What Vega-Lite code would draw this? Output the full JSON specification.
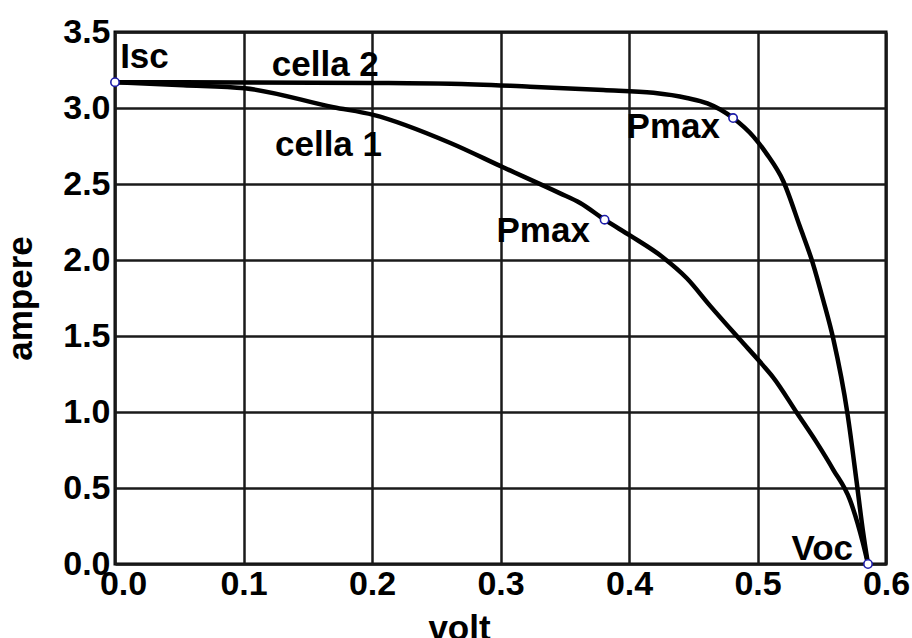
{
  "$schema": "https://vega.github.io/schema/vega-lite/v6.json",
  "width": 771,
  "height": 532,
  "autosize": "none",
  "padding": {"left": 115, "top": 32, "right": 26, "bottom": 74},
  "background": "white",
  "config": {
    "font": "Liberation Sans",
    "view": {"stroke": "black", "strokeWidth": 3},
    "axis": {
      "grid": true,
      "gridColor": "#1a1a1a",
      "gridWidth": 2.5,
      "gridOpacity": 1,
      "domain": false,
      "ticks": false,
      "labelFont": "Liberation Sans",
      "labelFontSize": 34,
      "labelFontWeight": "bold",
      "labelColor": "black",
      "titleFont": "Liberation Sans",
      "titleFontSize": 35,
      "titleFontWeight": "bold",
      "titleColor": "black"
    }
  },
  "datasets": {
    "curves": [
      {"volt": 0, "ampere": 3.17, "cell": "cella 1"},
      {"volt": 0.053, "ampere": 3.15, "cell": "cella 1"},
      {"volt": 0.101, "ampere": 3.13, "cell": "cella 1"},
      {"volt": 0.17, "ampere": 3.005, "cell": "cella 1"},
      {"volt": 0.201, "ampere": 2.955, "cell": "cella 1"},
      {"volt": 0.261, "ampere": 2.77, "cell": "cella 1"},
      {"volt": 0.302, "ampere": 2.61, "cell": "cella 1"},
      {"volt": 0.346, "ampere": 2.44, "cell": "cella 1"},
      {"volt": 0.362, "ampere": 2.375, "cell": "cella 1"},
      {"volt": 0.381, "ampere": 2.265, "cell": "cella 1"},
      {"volt": 0.401, "ampere": 2.16, "cell": "cella 1"},
      {"volt": 0.426, "ampere": 2.02, "cell": "cella 1"},
      {"volt": 0.445, "ampere": 1.88, "cell": "cella 1"},
      {"volt": 0.463, "ampere": 1.7, "cell": "cella 1"},
      {"volt": 0.486, "ampere": 1.48, "cell": "cella 1"},
      {"volt": 0.504, "ampere": 1.31, "cell": "cella 1"},
      {"volt": 0.512, "ampere": 1.23, "cell": "cella 1"},
      {"volt": 0.531, "ampere": 0.99, "cell": "cella 1"},
      {"volt": 0.546, "ampere": 0.8, "cell": "cella 1"},
      {"volt": 0.559, "ampere": 0.62, "cell": "cella 1"},
      {"volt": 0.572, "ampere": 0.42, "cell": "cella 1"},
      {"volt": 0.582, "ampere": 0.14, "cell": "cella 1"},
      {"volt": 0.586, "ampere": 0.0, "cell": "cella 1"},
      {"volt": 0, "ampere": 3.17, "cell": "cella 2"},
      {"volt": 0.1, "ampere": 3.168, "cell": "cella 2"},
      {"volt": 0.2, "ampere": 3.165, "cell": "cella 2"},
      {"volt": 0.261, "ampere": 3.16, "cell": "cella 2"},
      {"volt": 0.323, "ampere": 3.14, "cell": "cella 2"},
      {"volt": 0.38, "ampere": 3.118, "cell": "cella 2"},
      {"volt": 0.419, "ampere": 3.1, "cell": "cella 2"},
      {"volt": 0.445, "ampere": 3.066, "cell": "cella 2"},
      {"volt": 0.461, "ampere": 3.03, "cell": "cella 2"},
      {"volt": 0.471, "ampere": 2.99, "cell": "cella 2"},
      {"volt": 0.481, "ampere": 2.934, "cell": "cella 2"},
      {"volt": 0.497, "ampere": 2.81, "cell": "cella 2"},
      {"volt": 0.507, "ampere": 2.7, "cell": "cella 2"},
      {"volt": 0.52, "ampere": 2.52, "cell": "cella 2"},
      {"volt": 0.533, "ampere": 2.22, "cell": "cella 2"},
      {"volt": 0.543, "ampere": 1.98, "cell": "cella 2"},
      {"volt": 0.551, "ampere": 1.74, "cell": "cella 2"},
      {"volt": 0.559, "ampere": 1.48, "cell": "cella 2"},
      {"volt": 0.57, "ampere": 0.99, "cell": "cella 2"},
      {"volt": 0.577, "ampere": 0.55, "cell": "cella 2"},
      {"volt": 0.582, "ampere": 0.22, "cell": "cella 2"},
      {"volt": 0.586, "ampere": 0.0, "cell": "cella 2"}
    ],
    "points": [
      {"volt": 0, "ampere": 3.17, "name": "Isc"},
      {"volt": 0.381, "ampere": 2.265, "name": "Pmax 1"},
      {"volt": 0.481, "ampere": 2.934, "name": "Pmax 2"},
      {"volt": 0.586, "ampere": 0.0, "name": "Voc"}
    ],
    "leftLabels": [
      {"volt": 0.004, "ampere": 3.263, "text": "Isc"},
      {"volt": 0.122, "ampere": 3.21, "text": "cella 2"},
      {"volt": 0.1245, "ampere": 2.684, "text": "cella 1"}
    ],
    "rightLabels": [
      {"volt": 0.4708, "ampere": 2.803, "text": "Pmax"},
      {"volt": 0.3696, "ampere": 2.118, "text": "Pmax"},
      {"volt": 0.5743, "ampere": 0.026, "text": "Voc"}
    ]
  },
  "layer": [
    {
      "data": {"name": "curves"},
      "mark": {"type": "line", "color": "black", "strokeWidth": 4.5, "interpolate": "monotone", "strokeCap": "round", "clip": true},
      "encoding": {
        "x": {
          "field": "volt", "type": "quantitative",
          "scale": {"domain": [0, 0.6], "nice": false, "zero": false},
          "axis": {
            "values": [0, 0.1, 0.2, 0.3, 0.4, 0.5, 0.6],
            "format": ".1f",
            "title": "volt",
            "labelPadding": 3,
            "labelBaseline": "top",
            "labelFlush": false,
            "labelOverlap": false,
            "labelOffset": {"condition": {"test": "datum.value == 0", "value": 8}, "value": 0},
            "titleX": 344,
            "titleY": 75,
            "titleAlign": "center",
            "titleBaseline": "alphabetic"
          }
        },
        "y": {
          "field": "ampere", "type": "quantitative",
          "scale": {"domain": [0, 3.5], "nice": false},
          "axis": {
            "values": [0, 0.5, 1, 1.5, 2, 2.5, 3, 3.5],
            "format": ".1f",
            "title": "ampere",
            "labelPadding": 5,
            "labelFlush": false,
            "labelOverlap": false,
            "titleX": -84,
            "titleY": 266,
            "titleAngle": -90,
            "titleAlign": "center",
            "titleBaseline": "alphabetic"
          }
        },
        "detail": {"field": "cell"}
      }
    },
    {
      "data": {"name": "points"},
      "mark": {"type": "point", "shape": "circle", "filled": false, "fill": "white", "fillOpacity": 1, "stroke": "#1c1ca8", "strokeWidth": 1.6, "size": 70, "clip": false},
      "encoding": {
        "x": {"field": "volt", "type": "quantitative"},
        "y": {"field": "ampere", "type": "quantitative"}
      }
    },
    {
      "data": {"name": "leftLabels"},
      "mark": {"type": "text", "align": "left", "baseline": "alphabetic", "font": "Liberation Sans", "fontSize": 35, "fontWeight": "bold", "color": "black"},
      "encoding": {
        "x": {"field": "volt", "type": "quantitative"},
        "y": {"field": "ampere", "type": "quantitative"},
        "text": {"field": "text"}
      }
    },
    {
      "data": {"name": "rightLabels"},
      "mark": {"type": "text", "align": "right", "baseline": "alphabetic", "font": "Liberation Sans", "fontSize": 35, "fontWeight": "bold", "color": "black"},
      "encoding": {
        "x": {"field": "volt", "type": "quantitative"},
        "y": {"field": "ampere", "type": "quantitative"},
        "text": {"field": "text"}
      }
    }
  ]
}
